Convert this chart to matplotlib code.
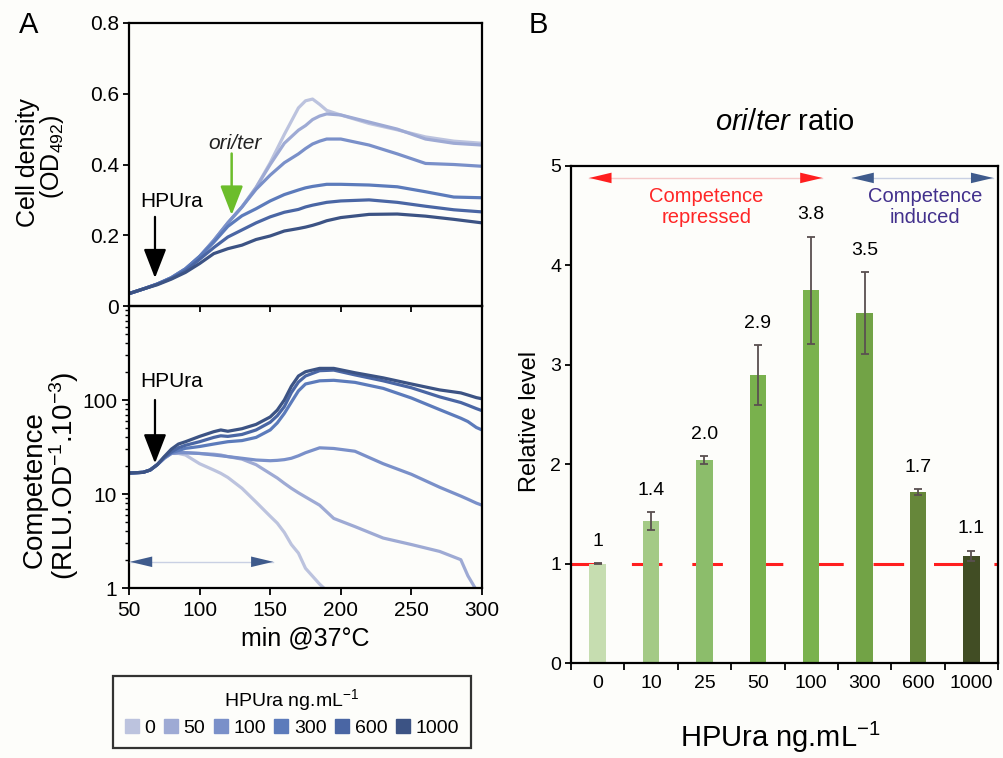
import numpy as np
import matplotlib
matplotlib.use("Agg")
import matplotlib.pyplot as plt
from matplotlib.lines import Line2D
from matplotlib.ticker import LogLocator, NullFormatter, FixedLocator

plt.rcParams['font.family'] = ['Liberation Sans', 'DejaVu Sans']
plt.rcParams['mathtext.fontset'] = 'custom'
plt.rcParams['mathtext.rm'] = 'Liberation Sans'
plt.rcParams['mathtext.it'] = 'Liberation Sans:italic'
plt.rcParams['lines.scale_dashes'] = False

# ---- panel A data ----
doses = ['0', '50', '100', '300', '600', '1000']
line_colors = ['#bcc3de', '#9eaad4', '#7a90c9', '#5c7bbb', '#4a66a4', '#3c5384']

t_od = [50, 60, 70, 80, 90, 100, 110, 120, 130, 140, 150, 160, 170, 175, 180, 185, 190, 200, 220, 240, 260, 280, 300]
od_0 = [.035, .048, .062, .08, .105, .14, .185, .235, .28, .335, .405, .485, .56, .58, .585, .57, .553, .54, .516, .498, .478, .466, .46]
od_50 = [.035, .048, .062, .08, .105, .14, .185, .235, .28, .335, .40, .46, .497, .51, .527, .537, .543, .54, .52, .50, .472, .46, .455]
od_100 = [.035, .048, .062, .08, .105, .14, .185, .235, .28, .33, .37, .405, .43, .445, .458, .466, .472, .472, .455, .43, .403, .40, .395]
od_300 = [.035, .048, .062, .08, .105, .14, .18, .225, .255, .275, .297, .315, .328, .334, .338, .341, .344, .344, .342, .337, .323, .308, .306]
od_600 = [.035, .048, .062, .078, .10, .132, .165, .195, .215, .235, .252, .265, .273, .28, .285, .289, .293, .297, .30, .293, .282, .272, .266]
od_1000 = [.035, .048, .06, .076, .095, .12, .148, .162, .172, .188, .198, .212, .219, .223, .228, .234, .241, .25, .259, .26, .254, .245, .235]

t_comp = [50, 60, 65, 70, 75, 80, 85, 90, 100, 110, 115, 120, 130, 140, 150, 155, 160, 165, 170, 175, 185, 195, 210, 230, 250, 270, 285, 290, 296, 300]
nan = np.nan
comp_0 = [16.7, 17, 18, 20.5, 24, 27, 27, 26, 21, 18, 16.6, 15, 11.5, 8.2, 5.8, 4.9, 3.9, 2.9, 2.35, 1.62, 1.1, 0.8,
          nan, nan, nan, nan, nan, nan, nan, nan]
comp_50 = [16.7, 17, 18, 20.5, 24, 27, 27.5, 27.5, 27, 26.5, 26, 25, 23.5, 20.5, 16.5, 14.8, 13, 11.5, 10.3, 9.3, 7.6, 5.5,
           4.5, 3.4, 2.9, 2.45, 2.0, 1.35, 0.95, nan]
comp_100 = [16.7, 17, 18, 20.5, 24, 27, 27.5, 27.5, 27, 26, 25.5, 25, 24, 23, 22.6, 22.8, 23.2, 24, 25.5, 27.5, 31, 30.5,
            28.5, 21, 16.2, 11.8, 9.5, 8.8, 8.0, 7.6]
comp_300 = [16.7, 17, 18, 20.5, 24.5, 27.5, 29, 30.6, 32, 34, 35, 36, 37, 40, 48, 57, 72, 95, 125, 148, 160, 162,
            154, 133, 105, 79, 64, 59, 51, 48]
comp_600 = [16.7, 17, 18, 20.5, 24.5, 28, 31, 33, 36, 40, 41.6, 41, 43, 48, 58, 68, 85, 120, 155, 180, 205, 208,
            185, 160, 135, 108, 94, 88, 81, 77]
comp_1000 = [16.7, 17, 18, 20.5, 25, 30, 34, 36, 41, 46, 48, 46.5, 49.5, 55, 66, 78, 100, 140, 180, 200, 217, 217,
             195, 172, 148, 128, 119, 113, 106, 103]

od_series = [od_0, od_50, od_100, od_300, od_600, od_1000]
comp_series = [comp_0, comp_50, comp_100, comp_300, comp_600, comp_1000]

# ---- panel B data ----
conc = ['0', '10', '25', '50', '100', '300', '600', '1000']
ratio = [1.0, 1.43, 2.04, 2.90, 3.75, 3.52, 1.72, 1.08]
ratio_err = [0.005, 0.09, 0.04, 0.30, 0.54, 0.41, 0.03, 0.05]
ratio_labels = ['1', '1.4', '2.0', '2.9', '3.8', '3.5', '1.7', '1.1']
bar_colors = ['#c6ddb0', '#a4ca86', '#8cbd6b', '#79b14d', '#7ab24e', '#72a346', '#66873a', '#414d24']

W, H = 1004, 758
BG = '#fdfdfa'


def fx(x):
    return x / W


def fy(y):
    return 1 - y / H


def double_arrow(ax, x0, x1, y, head_color, shaft_color, trans=None):
    trans = trans or ax.transData
    ax.plot([x0, x1], [y, y], color=shaft_color, lw=1.0, transform=trans, zorder=4, clip_on=False)
    ax.annotate('', xy=(x1, y), xytext=(x0, y), xycoords=trans, textcoords=trans,
                arrowprops=dict(arrowstyle='<|-|>,head_length=1.6,head_width=0.38',
                                color=head_color, lw=0, shrinkA=0, shrinkB=0), zorder=5)


fig = plt.figure(figsize=(W / 100, H / 100), dpi=100, facecolor=BG)

# ---------- panel A, top ----------
ax1 = fig.add_axes([fx(129), fy(306), fx(482) - fx(129), fy(23) - fy(306)])
ax1.set_facecolor(BG)
for s, c in zip(od_series, line_colors):
    ax1.plot(t_od, s, color=c, lw=2.3, solid_capstyle='round', solid_joinstyle='round')
ax1.set_xlim(50, 300)
ax1.set_ylim(0, 0.8)
ax1.set_yticks([0, 0.2, 0.4, 0.6, 0.8])
ax1.set_yticklabels(['0', '0.2', '0.4', '0.6', '0.8'])
ax1.set_xticks([50, 100, 150, 200, 250, 300])
ax1.tick_params(axis='x', labelbottom=False, direction='out', length=4, width=1.3)
ax1.tick_params(axis='y', direction='out', length=4, width=1.3, labelsize=15, pad=3)
for sp in ax1.spines.values():
    sp.set_linewidth(1.6)

ax1.text(80.5, 0.294, 'HPUra', fontsize=15, ha='center', va='center')
ax1.annotate('', xy=(68.4, 0.079), xytext=(68.4, 0.252),
             arrowprops=dict(arrowstyle='-|>,head_length=1.8,head_width=0.7', color='black', lw=1.6,
                             shrinkA=0, shrinkB=0))
ax1.text(125.1, 0.46, 'ori/ter', fontsize=15, style='italic', ha='center', va='center', color='#222222')
ax1.annotate('', xy=(122.7, 0.257), xytext=(122.7, 0.431),
             arrowprops=dict(arrowstyle='-|>,head_length=1.8,head_width=0.7', color='#6cbd2b', lw=1.8,
                             shrinkA=0, shrinkB=0))

# ---------- panel A, bottom ----------
ax2 = fig.add_axes([fx(129), fy(588), fx(482) - fx(129), fy(306) - fy(588)])
ax2.patch.set_visible(False)
for s, c in zip(comp_series, line_colors):
    ax2.plot(t_comp, s, color=c, lw=2.3, solid_capstyle='round', solid_joinstyle='round')
ax2.set_yscale('log')
ax2.set_xlim(50, 300)
ax2.set_ylim(1, 1000)
ax2.yaxis.set_major_locator(FixedLocator([1, 10, 100]))
ax2.set_yticklabels(['1', '10', '100'])
ax2.yaxis.set_minor_locator(LogLocator(base=10, subs=np.arange(2, 10)))
ax2.yaxis.set_minor_formatter(NullFormatter())
ax2.set_xticks([50, 100, 150, 200, 250, 300])
ax2.tick_params(axis='both', which='major', direction='out', length=5, width=1.3, labelsize=15)
ax2.tick_params(axis='y', which='minor', direction='out', length=3, width=1.0)
ax2.tick_params(axis='x', pad=4)
for sp in ax2.spines.values():
    sp.set_linewidth(1.6)

ax2.text(80.2, 156, 'HPUra', fontsize=15, ha='center', va='center')
ax2.annotate('', xy=(68.4, 21.2), xytext=(68.4, 100),
             arrowprops=dict(arrowstyle='-|>,head_length=1.8,head_width=0.7', color='black', lw=1.6,
                             shrinkA=0, shrinkB=0))
double_arrow(ax2, 50.7, 152.2, 1.9, '#3f5b8c', '#c9d0e3')

fig.text(fx(305), fy(638), 'min @37°C', fontsize=18, ha='center', va='center')

# axis titles panel A
fig.text(fx(28), fy(163), 'Cell density', rotation=90, fontsize=18, ha='center', va='center')
fig.text(fx(52), fy(157), '(OD$_{492}$)', rotation=90, fontsize=18, ha='center', va='center')
fig.text(fx(35), fy(490), 'Competence', rotation=90, fontsize=20, ha='center', va='center')
fig.text(fx(64), fy(476), '(RLU.OD$^{-1}$.10$^{-3}$)', rotation=90, fontsize=20, ha='center', va='center')

fig.text(fx(29), fy(25), 'A', fontsize=21, ha='center', va='center')
fig.text(fx(538), fy(25), 'B', fontsize=21, ha='center', va='center')

# legend for panel A
handles = [Line2D([], [], marker='s', linestyle='none', markersize=10, color=c) for c in line_colors]
leg = fig.legend(handles, doses, loc='center', bbox_to_anchor=(fx(292), fy(712)), ncol=6,
                 title='HPUra ng.mL$^{-1}$', title_fontsize=14, fontsize=14, frameon=True, fancybox=False,
                 handlelength=0.7, handletextpad=0.3, columnspacing=0.45, borderpad=0.6, labelspacing=0.3)
leg.get_frame().set_edgecolor('black')
leg.get_frame().set_linewidth(1.6)
leg.get_frame().set_facecolor(BG)

# ---------- panel B ----------
ax3 = fig.add_axes([fx(571), fy(663), fx(998) - fx(571), fy(166) - fy(663)])
ax3.set_facecolor(BG)
xpos = np.arange(len(conc))
ax3.plot([-0.5, 7.5], [1, 1], color='#ff1e1e', lw=2.2, dashes=(22, 21.5), zorder=1)
ax3.bar(xpos, ratio, width=0.31, color=bar_colors, zorder=2)
ax3.errorbar(xpos, ratio, yerr=ratio_err, fmt='none', ecolor='#5a5050', elinewidth=1.3, capsize=3,
             capthick=1.3, zorder=3)
for xi, v, e, lab in zip(xpos, ratio, ratio_err, ratio_labels):
    ax3.text(xi, v + e + 0.22, lab, fontsize=14, ha='center', va='center')

ax3.set_xlim(-0.5, 7.5)
ax3.set_ylim(0, 5)
ax3.set_xticks(xpos)
ax3.set_xticklabels(conc)
ax3.set_xticks(np.arange(-0.5, 8.0, 1.0), minor=True)
ax3.tick_params(axis='x', which='major', length=0, labelsize=14, pad=9)
ax3.tick_params(axis='x', which='minor', direction='out', length=5, width=1.3)
ax3.set_yticks([0, 1, 2, 3, 4, 5])
ax3.tick_params(axis='y', direction='out', length=4, width=1.3, labelsize=14, pad=3)
for sp in ax3.spines.values():
    sp.set_linewidth(1.6)

double_arrow(ax3, -0.157, 4.21, 4.88, '#ff1e1e', '#f6c9c9')
double_arrow(ax3, 4.757, 7.41, 4.88, '#3f5b8c', '#c9d0e3')
ax3.text(2.04, 4.59, 'Competence\nrepressed', fontsize=14.5, color='#ff2626', ha='center', va='center',
         linespacing=1.1)
ax3.text(6.13, 4.59, 'Competence\ninduced', fontsize=14.5, color='#42308c', ha='center', va='center',
         linespacing=1.1)

fig.text(fx(785), fy(122), r'$\mathit{ori/ter}$ ratio', fontsize=21, ha='center', va='center')
fig.text(fx(530), fy(421), 'Relative level', rotation=90, fontsize=17, ha='center', va='center')
fig.text(fx(780), fy(737), 'HPUra ng.mL$^{-1}$', fontsize=21, ha='center', va='center')

fig.savefig('out.png', dpi=100, facecolor=BG)
